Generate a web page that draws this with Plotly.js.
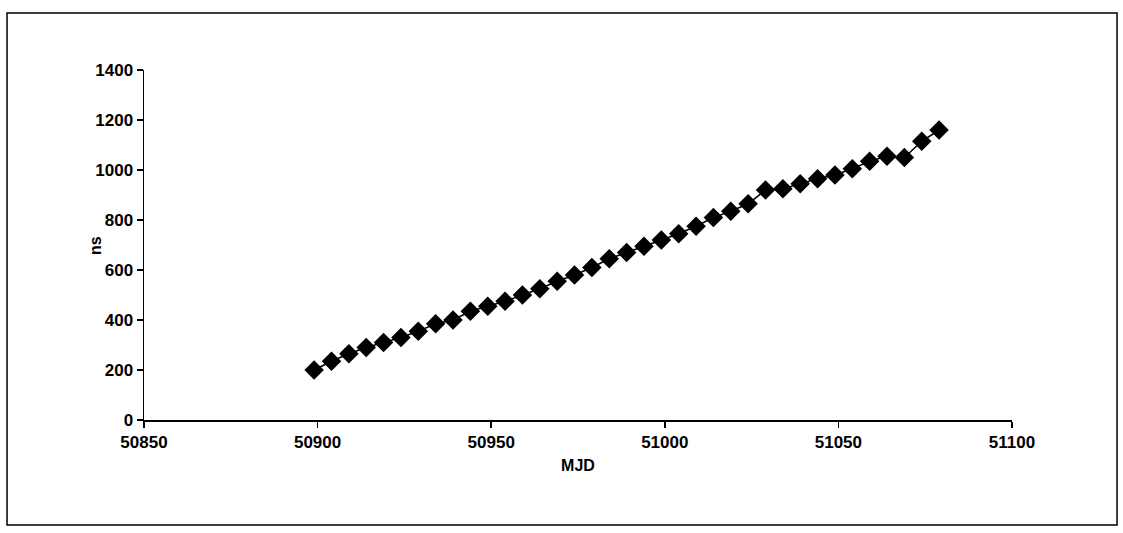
<!DOCTYPE html>
<html>
<head>
<meta charset="utf-8">
<script src="https://cdn.plot.ly/plotly-3.0.1.min.js"></script>
<style>html,body{margin:0;padding:0;background:#fff;}#chart{width:1123px;height:533px;}</style>
</head>
<body>
<div id="chart"></div>
<script>
const mjd = [50899,50904,50909,50914,50919,50924,50929,50934,50939,50944,50949,50954,50959,50964,50969,50974,50979,50984,50989,50994,50999,51004,51009,51014,51019,51024,51029,51034,51039,51044,51049,51054,51059,51064,51069,51074,51079];
const ns = [200,235,265,290,310,330,355,385,400,435,455,475,500,525,555,580,610,645,670,695,720,745,775,810,835,865,920,925,945,965,980,1005,1035,1055,1050,1115,1160];
const xTicks = [50850,50900,50950,51000,51050,51100];
const yTicks = [0,200,400,600,800,1000,1200,1400];

const fam = 'Liberation Sans, Arial, sans-serif';
const tf = {family: fam, size: 17, color: '#000', weight: 'bold'};
Plotly.newPlot('chart', [{
  x: mjd, y: ns, type: 'scatter', mode: 'lines+markers',
  line: {color: '#000', width: 1.5},
  marker: {symbol: 'diamond', size: 15, color: '#000'}
}], {
  width: 1123, height: 533,
  margin: {l: 144, r: 111, t: 70, b: 113},
  paper_bgcolor: '#fff', plot_bgcolor: '#fff',
  showlegend: false,
  font: {family: fam, size: 17, color: '#000'},
  xaxis: {
    range: [50850, 51100], tickvals: xTicks, ticktext: xTicks.map(String),
    showgrid: false, zeroline: false, showline: true, linecolor: '#000', linewidth: 2,
    ticks: 'outside', ticklen: 6, tickcolor: '#000', tickwidth: 1.5,
    tickfont: tf,
    title: {text: '<b>MJD</b>', font: {family: fam, size: 16, color: '#000'}, standoff: 8}
  },
  yaxis: {
    range: [0, 1400], tickvals: yTicks, ticktext: yTicks.map(String),
    showgrid: false, zeroline: false, showline: true, linecolor: '#000', linewidth: 1.5,
    ticks: 'outside', ticklen: 6, tickcolor: '#000', tickwidth: 1.5,
    tickfont: tf
  },
  annotations: [{
    text: '<b>ns</b>', xref: 'paper', yref: 'paper', x: -0.0565, y: 0.5,
    xanchor: 'center', yanchor: 'middle', showarrow: false, textangle: -90,
    font: {family: fam, size: 16, color: '#000'}
  }],
  shapes: [{
    type: 'rect', xref: 'paper', yref: 'paper',
    x0: -0.1578, x1: 1.121, y0: -0.3, y1: 1.163,
    line: {color: '#000', width: 1.5}, fillcolor: 'rgba(0,0,0,0)'
  }]
}, {displayModeBar: false, staticPlot: true});
</script>
</body>
</html>
